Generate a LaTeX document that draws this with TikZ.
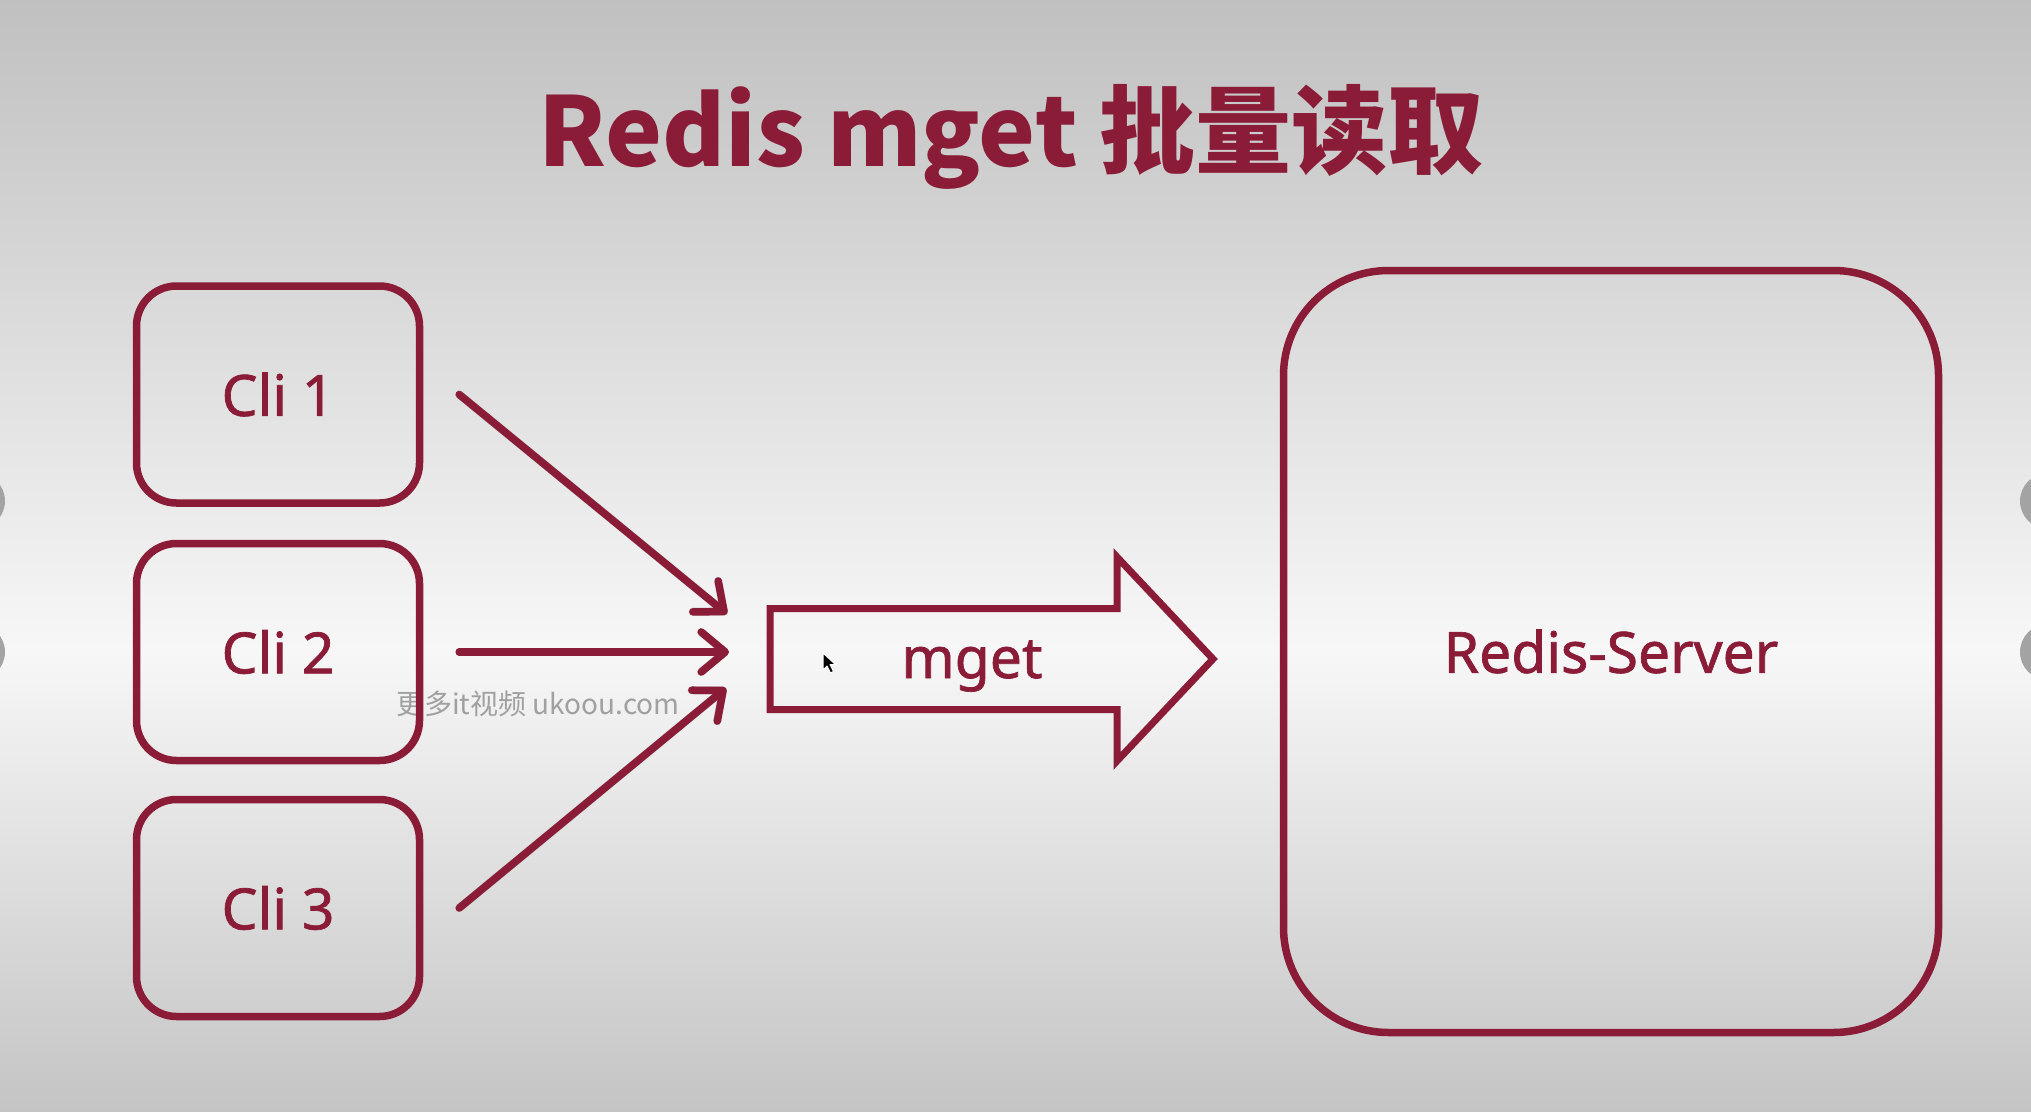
\documentclass[tikz,border=0pt]{standalone}
\usepackage{fontspec}
\setmainfont{Noto Sans}
\newfontfamily\lblfont{Noto Sans}[FakeBold=1.2]
\newfontfamily\cjk{Noto Sans CJK SC}
\usetikzlibrary{arrows.meta}
\definecolor{rd}{RGB}{139,28,56}
\definecolor{bgtop}{RGB}{192,192,192}
\definecolor{bgmid}{RGB}{247,247,247}
\definecolor{bgbot}{RGB}{196,196,196}
\definecolor{knob}{RGB}{163,163,163}
\definecolor{wmc}{RGB}{160,160,160}
\begin{document}
\begin{tikzpicture}[x=1pt,y=-1pt,
  lbl/.style={text=rd, font=\lblfont\fontsize{57}{60}\selectfont},
  clibox/.style={draw=rd, line width=7.5pt, rounded corners=40pt,
    minimum width=283pt, minimum height=217pt, inner sep=0pt, lbl},
  srvbox/.style={draw=rd, line width=7.5pt, rounded corners=105pt,
    minimum width=655pt, minimum height=762pt, inner sep=0pt, lbl},
  bigarrow/.style={draw=rd, line width=7pt, miter limit=10},
  flow/.style={draw=rd, line width=7.5pt, line cap=round,
    -{Straight Barb[length=24pt,width=40pt,round]}},
  flowshadow/.style={draw=black, opacity=0.2, line width=8pt, line cap=round,
    -{Straight Barb[length=24pt,width=40pt,round]}},
]
\useasboundingbox (0,0) rectangle (2031,1111);
\begin{scope}
\clip (0,0) rectangle (2031,1111);
\shade[top color=bgtop, bottom color=bgmid] (0,0) rectangle (2031,651);
\shade[top color=bgmid, bottom color=bgbot] (0,650) rectangle (2031,1111);
\fill[knob] (-23,501) circle[radius=28];
\fill[knob] (-23,652) circle[radius=28];
\fill[knob] (2048,501) circle[radius=28];
\fill[knob] (2048,652) circle[radius=28];
\end{scope}

% title
\node[text=rd, font=\cjk\bfseries\fontsize{96}{106}\selectfont, anchor=base, inner sep=0pt]
  (title) at (1011,166) {Redis mget 批量读取};

% watermark
\node[anchor=base west, text=wmc, font=\cjk\fontsize{28}{30}\selectfont, inner sep=0pt]
  (wm) at (396,714) {更多it视频 ukoou.com};

% client boxes
\node[clibox] (c1) at (278,394.5) {Cli 1};
\node[clibox] (c2) at (278,652) {Cli 2};
\node[clibox] (c3) at (278,908) {Cli 3};

% server
\node[srvbox] (srv) at (1611,651.5) {Redis-Server};

% mget arrow body (anchor node) and outline
\node[minimum width=347pt, minimum height=101pt, inner sep=0pt, outer sep=0pt] (mg) at (943.5,659) {};
\draw[bigarrow] (mg.north west) -- (mg.north east) -- (1117,557) -- (1213,659)
  -- (1117,761) -- (mg.south east) -- (mg.south west) -- cycle;
\node[lbl, anchor=base] (mgl) at (972,678) {mget};

% connector end points
\coordinate (s1) at ([xshift=36pt]c1.east);
\coordinate (s2) at ([xshift=36pt]c2.east);
\coordinate (s3) at ([xshift=36pt]c3.east);
\coordinate (e1) at ([xshift=-43pt,yshift=45pt]mg.west);
\coordinate (e2) at ([xshift=-41pt,yshift=7pt]mg.west);
\coordinate (e3) at ([xshift=-44pt,yshift=-29pt]mg.west);

\begin{scope}[shift={(3,4)}]
\draw[flowshadow] (s1) -- (e1);
\draw[flowshadow] (s2) -- (e2);
\draw[flowshadow] (s3) -- (e3);
\end{scope}
\draw[flow] (s1) -- (e1);
\draw[flow] (s2) -- (e2);
\draw[flow] (s3) -- (e3);

% mouse pointer
\filldraw[fill=black, draw=white, line width=1pt, line join=round]
  (823,653) -- ++(0,17) -- ++(4,-4) -- ++(3.5,7) -- ++(3,-1.5) -- ++(-3.5,-7) -- ++(5.5,0) -- cycle;
\end{tikzpicture}
\end{document}
